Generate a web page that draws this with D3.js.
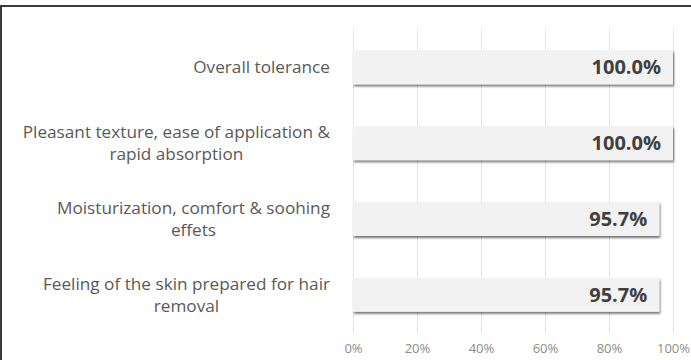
<!DOCTYPE html>
<html>
<head>
<meta charset="utf-8">
<script src="https://cdn.jsdelivr.net/npm/d3@7"></script>
<style>
  body { margin: 0; background: #fff; }
  svg { display: block; }
</style>
</head>
<body>
<script>
// chart data
var categories = [
  ["Overall tolerance"],
  ["Pleasant texture, ease of application &", "rapid absorption"],
  ["Moisturization, comfort & soohing", "effets"],
  ["Feeling of the skin prepared for hair", "removal"]
];
var values = [100.0, 100.0, 95.7, 95.7];
var ticks = [0, 20, 40, 60, 80, 100];

var W = 691, H = 360;
var font = "'Open Sans', sans-serif";

var svg = d3.select("body").append("svg")
    .attr("width", W)
    .attr("height", H);

// outer frame (top + left edges only visible)
svg.append("rect").attr("x", 0).attr("y", 5).attr("width", W).attr("height", 2).attr("fill", "#3a3a3a");
svg.append("rect").attr("x", 0).attr("y", 5).attr("width", 2).attr("height", H - 5).attr("fill", "#3a3a3a");

var x = d3.scaleLinear().domain([0, 100]).range([353, 673]);
var y = d3.scaleBand().domain(d3.range(categories.length)).range([29, 333]).paddingInner(0.55).paddingOuter(0.28);

// shadow filter
var defs = svg.append("defs");
var f = defs.append("filter").attr("id", "shadow").attr("x", "-5%").attr("y", "-20%").attr("width", "110%").attr("height", "160%");
f.append("feDropShadow").attr("dx", 1).attr("dy", 2).attr("stdDeviation", 1.2).attr("flood-color", "#000").attr("flood-opacity", 0.55);

// gridlines
svg.append("g").selectAll("line")
    .data(ticks)
    .enter().append("line")
    .attr("x1", function(d) { return x(d) + 0.5; })
    .attr("x2", function(d) { return x(d) + 0.5; })
    .attr("y1", 29)
    .attr("y2", 333)
    .attr("stroke", "#e3e3e3")
    .attr("stroke-width", 1);

// x axis labels
var xAxis = d3.axisBottom(x).tickValues(ticks).tickSize(0).tickPadding(0)
    .tickFormat(function(d) { return d + "%"; });
var gx = svg.append("g").attr("transform", "translate(0,344)").call(xAxis);
gx.select(".domain").remove();
gx.selectAll("text")
    .style("font-family", font)
    .style("font-size", "13px")
    .attr("fill", "#8c8c8c");

// bars
svg.append("g").selectAll("rect")
    .data(values)
    .enter().append("rect")
    .attr("x", x(0))
    .attr("y", function(d, i) { return y(i); })
    .attr("width", function(d) { return x(d) - x(0); })
    .attr("height", y.bandwidth())
    .attr("fill", "#f2f2f2")
    .attr("filter", "url(#shadow)");

// value labels
svg.append("g").selectAll("text")
    .data(values)
    .enter().append("text")
    .attr("x", function(d) { return x(d) - 12; })
    .attr("y", function(d, i) { return y(i) + y.bandwidth() / 2; })
    .attr("dy", "0.36em")
    .attr("text-anchor", "end")
    .style("font-family", font)
    .style("font-size", "20px")
    .style("font-weight", "bold")
    .attr("fill", "#404040")
    .text(function(d) { return d.toFixed(1) + "%"; });

// category labels: block right-aligned, lines centred within block
var right = 330, lineH = 22;
categories.forEach(function(lines, i) {
  var cy = y(i) + y.bandwidth() / 2;
  var g = svg.append("g");
  var texts = g.selectAll("text")
      .data(lines)
      .enter().append("text")
      .attr("y", function(d, j) { return cy + (j - (lines.length - 1) / 2) * lineH; })
      .attr("dy", "0.35em")
      .attr("text-anchor", "middle")
      .style("font-family", font)
      .style("font-size", "17.2px")
      .attr("fill", "#595959")
      .text(function(d) { return d; });
  var maxW = 0;
  texts.each(function() { maxW = Math.max(maxW, this.getComputedTextLength()); });
  texts.attr("x", right - maxW / 2);
});
</script>
</body>
</html>
